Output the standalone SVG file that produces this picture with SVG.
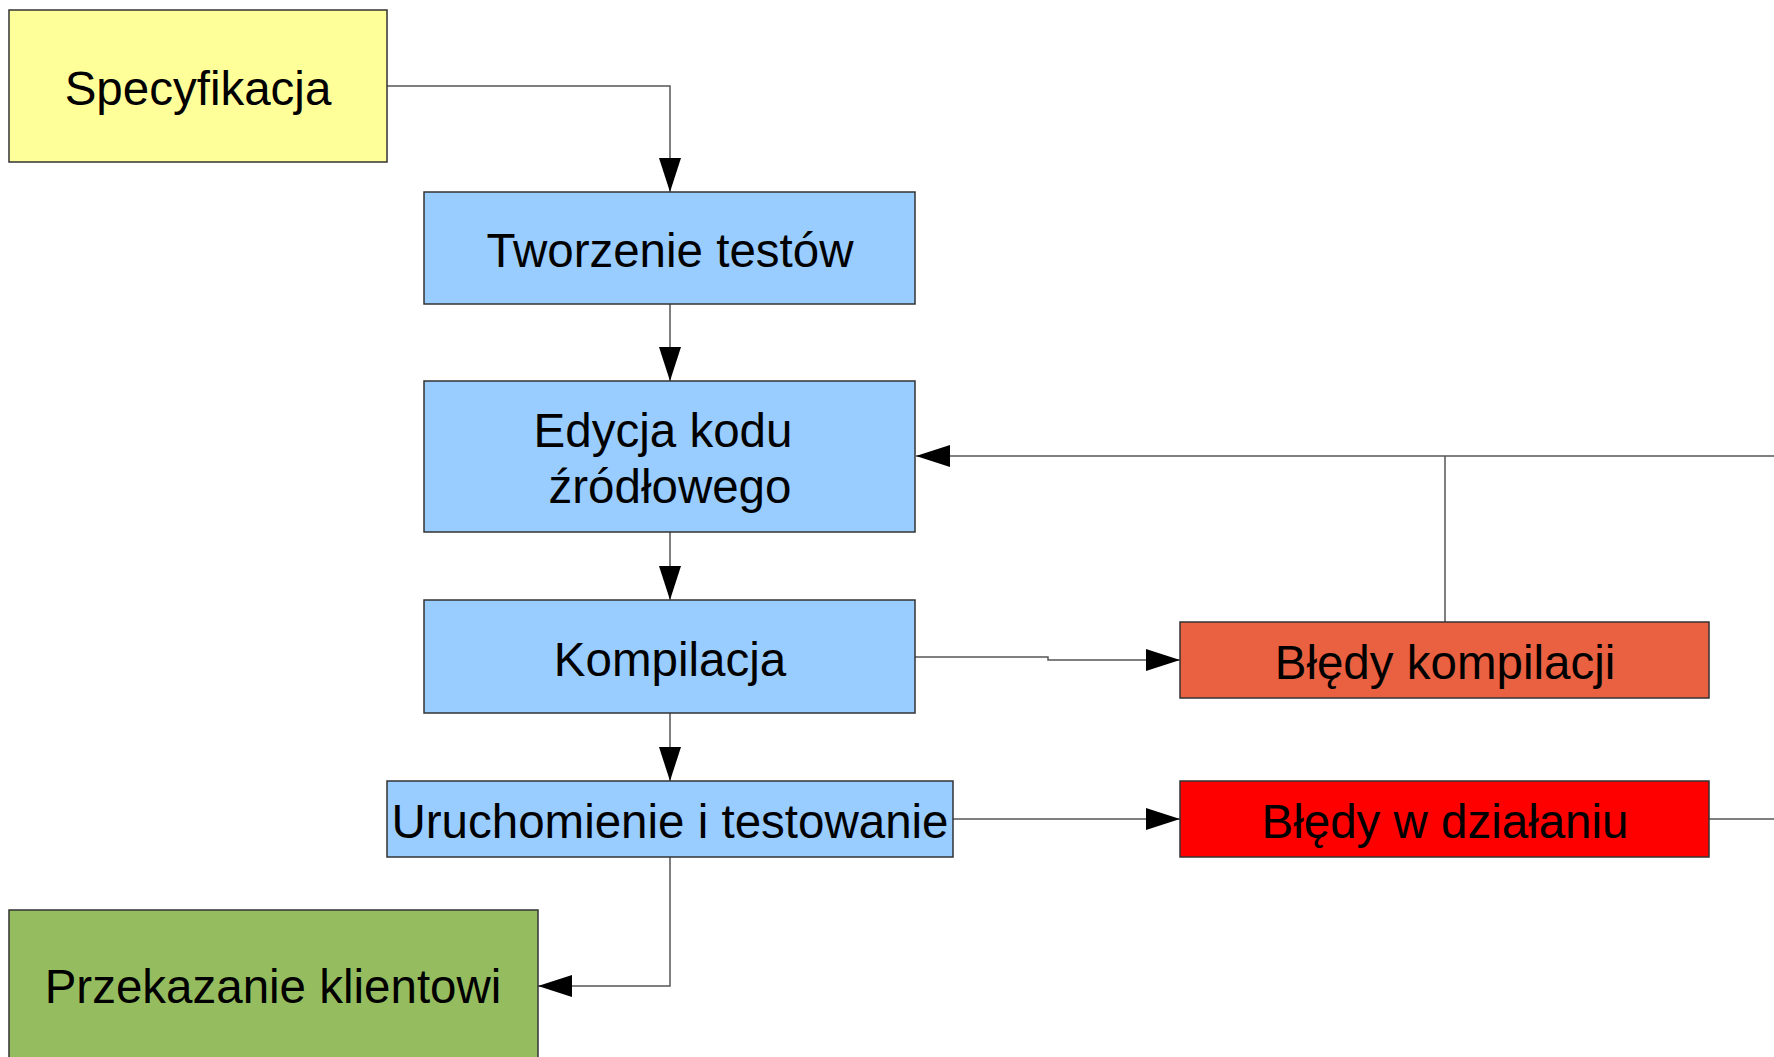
<svg xmlns="http://www.w3.org/2000/svg" width="1774" height="1057" viewBox="0 0 1774 1057">
<style>
.box{stroke:#333;stroke-width:1.5}
.lbl{font-family:"Liberation Sans",Arial,sans-serif;font-size:47.5px;fill:#000;text-anchor:middle}
.con{fill:none;stroke:#555;stroke-width:1.5}
</style>
<defs>
<marker id="ah" markerUnits="userSpaceOnUse" markerWidth="34" markerHeight="22" refX="34" refY="11" orient="auto" viewBox="0 0 34 22">
<path d="M0,0 L34,11 L0,22 Z" fill="#000"/>
</marker>
</defs>
<rect width="1774" height="1057" fill="#fff"/>
<g id="connectors">
<path class="con" d="M387,86 H670 V192" marker-end="url(#ah)"/>
<path class="con" d="M670,304 V381" marker-end="url(#ah)"/>
<path class="con" d="M670,532 V600" marker-end="url(#ah)"/>
<path class="con" d="M670,713 V781" marker-end="url(#ah)"/>
<path class="con" d="M915,657 H1048 V660 H1180" marker-end="url(#ah)"/>
<path class="con" d="M953,819 H1180" marker-end="url(#ah)"/>
<path class="con" d="M670,857 V986 H538" marker-end="url(#ah)"/>
<path class="con" d="M1774,456 H916" marker-end="url(#ah)"/>
<path class="con" d="M1445,622 V456"/>
<path class="con" d="M1709,819 H1774"/>
</g>
<g id="specyfikacja">
<rect class="box" x="9" y="10" width="378" height="152" fill="#ffff99"/>
<text class="lbl" x="198" y="105">Specyfikacja</text>
</g>
<g id="tworzenie-testow">
<rect class="box" x="424" y="192" width="491" height="112" fill="#99ccff"/>
<text class="lbl" x="670" y="267">Tworzenie testów</text>
</g>
<g id="edycja-kodu">
<rect class="box" x="424" y="381" width="491" height="151" fill="#99ccff"/>
<text class="lbl" x="663" y="447">Edycja kodu</text>
<text class="lbl" x="670" y="503">źródłowego</text>
</g>
<g id="kompilacja">
<rect class="box" x="424" y="600" width="491" height="113" fill="#99ccff"/>
<text class="lbl" x="670" y="676">Kompilacja</text>
</g>
<g id="uruchomienie">
<rect class="box" x="387" y="781" width="566" height="76" fill="#99ccff"/>
<text class="lbl" x="670" y="838">Uruchomienie i testowanie</text>
</g>
<g id="bledy-kompilacji">
<rect class="box" x="1180" y="622" width="529" height="76" fill="#e96140"/>
<text class="lbl" x="1445" y="679">Błędy kompilacji</text>
</g>
<g id="bledy-w-dzialaniu">
<rect class="box" x="1180" y="781" width="529" height="76" fill="#ff0000"/>
<text class="lbl" x="1445" y="838">Błędy w działaniu</text>
</g>
<g id="przekazanie">
<rect class="box" x="9" y="910" width="529" height="152" fill="#95bd5f"/>
<text class="lbl" x="273" y="1003">Przekazanie klientowi</text>
</g>
</svg>
